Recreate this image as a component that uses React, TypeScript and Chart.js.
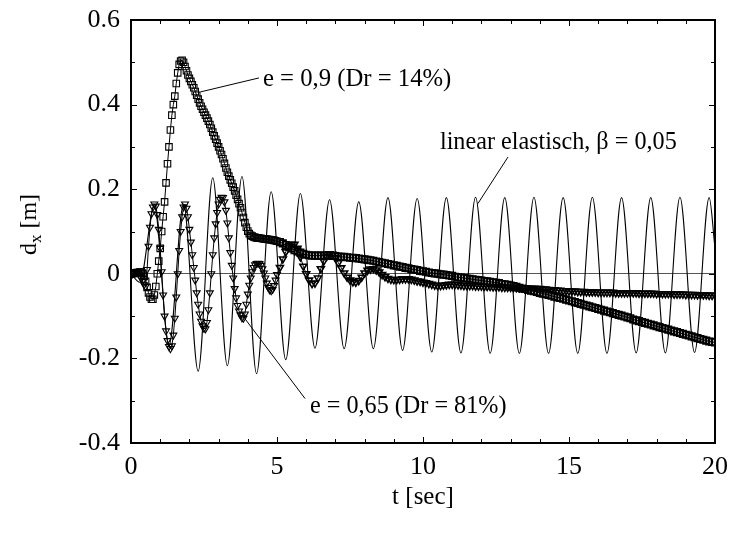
import React, { useEffect, useRef } from "react";
import { Chart, registerables } from "chart.js";

Chart.register(...registerables);

// ---------- axes ----------
const X_MIN = 0;
const X_MAX = 20;
const X_STEP = 5;
const X_MINOR = 1;
const Y_MIN = -0.4;
const Y_MAX = 0.6;
const Y_STEP = 0.2;
const Y_MINOR = 0.1;
const X_TITLE = "t [sec]";
const Y_TITLE_MAIN = "d";
const Y_TITLE_SUB = "x";
const Y_TITLE_UNIT = " [m]";

// ---------- sampling grid of the two measured records ----------
const EARLY_STEP = 0.05; // 0.00 ... 5.00 s
const LATE_START = 5.1;
const LATE_STEP = 0.1; // 5.1 ... 20.0 s

// ---------- e = 0,9 (Dr = 14%)  (squares) ----------
const SQ_EARLY = [
  0, 0, 0.001, 0.002, 0.003, 0.003, 0.004, 0.004, 0.001, -0.006,
  -0.018, -0.032, -0.045, -0.055, -0.06, -0.06, -0.05, -0.03, 0.0, 0.03,
  0.06, 0.1, 0.135, 0.17, 0.215, 0.26, 0.3, 0.34, 0.375, 0.4,
  0.42, 0.45, 0.475, 0.495, 0.503, 0.505, 0.5, 0.49, 0.48, 0.47,
  0.462, 0.455, 0.447, 0.44, 0.431, 0.422, 0.413, 0.404, 0.396, 0.389,
  0.382, 0.375, 0.368, 0.361, 0.353, 0.344, 0.335, 0.326, 0.318, 0.309,
  0.3, 0.291, 0.282, 0.272, 0.261, 0.25, 0.24, 0.231, 0.222, 0.214,
  0.205, 0.196, 0.186, 0.176, 0.166, 0.156, 0.145, 0.133, 0.121, 0.11,
  0.101, 0.095, 0.091, 0.089, 0.087, 0.086, 0.085, 0.085, 0.084, 0.084,
  0.083, 0.083, 0.082, 0.082, 0.081, 0.081, 0.08, 0.08, 0.079, 0.078,
  0.077,
];
const SQ_LATE = [
  0.075, 0.072, 0.068, 0.064, 0.06, 0.056, 0.053, 0.05, 0.047, 0.045,
  0.044, 0.043, 0.043, 0.043, 0.043, 0.043, 0.043, 0.043, 0.042, 0.042,
  0.041, 0.04, 0.04, 0.039, 0.038, 0.038, 0.037, 0.036, 0.035, 0.034,
  0.033, 0.032, 0.031, 0.029, 0.028, 0.026, 0.025, 0.023, 0.022, 0.02,
  0.019, 0.017, 0.016, 0.014, 0.013, 0.011, 0.01, 0.009, 0.007, 0.006,
  0.005, 0.003, 0.002, 0.001, 0, -0.001, -0.002, -0.003, -0.004, -0.005,
  -0.007, -0.008, -0.009, -0.01, -0.011, -0.012, -0.013, -0.014, -0.015, -0.016,
  -0.017, -0.018, -0.019, -0.02, -0.021, -0.022, -0.024, -0.025, -0.026, -0.028,
  -0.029, -0.031, -0.033, -0.035, -0.036, -0.038, -0.04, -0.041, -0.043, -0.045,
  -0.047, -0.048, -0.05, -0.052, -0.054, -0.056, -0.057, -0.059, -0.061, -0.063,
  -0.065, -0.067, -0.069, -0.071, -0.073, -0.075, -0.077, -0.079, -0.081, -0.083,
  -0.085, -0.087, -0.089, -0.091, -0.093, -0.095, -0.097, -0.099, -0.101, -0.103,
  -0.105, -0.108, -0.11, -0.112, -0.114, -0.116, -0.118, -0.12, -0.122, -0.124,
  -0.126, -0.128, -0.13, -0.132, -0.134, -0.136, -0.138, -0.14, -0.142, -0.144,
  -0.146, -0.148, -0.15, -0.152, -0.154, -0.156, -0.158, -0.16, -0.161, -0.162,
];

// ---------- e = 0,65 (Dr = 81%)  (triangles) ----------
const TR_EARLY = [
  0, 0, 0.002, 0.004, 0.004, 0.001, -0.004, -0.01, -0.017, -0.026,
  -0.03, 0.01, 0.065, 0.11, 0.142, 0.158, 0.165, 0.16, 0.14, 0.105,
  0.06, 0.005, -0.05, -0.1, -0.135, -0.158, -0.172, -0.177, -0.17, -0.145,
  -0.105, -0.055, 0, 0.055, 0.1, 0.135, 0.158, 0.165, 0.155, 0.135,
  0.105, 0.075, 0.045, 0.015, -0.015, -0.045, -0.072, -0.095, -0.112, -0.123,
  -0.129, -0.13, -0.115, -0.085, -0.045, 0, 0.045, 0.085, 0.118, 0.145,
  0.165, 0.176, 0.181, 0.18, 0.17, 0.15, 0.12, 0.085, 0.05, 0.02,
  -0.01, -0.035, -0.057, -0.075, -0.088, -0.097, -0.104, -0.105, -0.095, -0.072,
  -0.048, -0.027, -0.01, 0.005, 0.015, 0.021, 0.024, 0.025, 0.024, 0.02,
  0.012, 0.002, -0.01, -0.022, -0.032, -0.038, -0.04, -0.037, -0.028, -0.015,
  -0.002,
];
const TR_LATE = [
  0.015, 0.035, 0.052, 0.063, 0.07, 0.07, 0.06, 0.04, 0.018, 0.0,
  -0.015, -0.023, -0.022, -0.01, 0.012, 0.03, 0.041, 0.047, 0.046, 0.038,
  0.026, 0.014, 0.002, -0.008, -0.015, -0.019, -0.02, -0.016, -0.008, 0.002,
  0.008, 0.011, 0.012, 0.009, 0.004, -0.002, -0.007, -0.011, -0.013, -0.014,
  -0.014, -0.013, -0.012, -0.012, -0.012, -0.013, -0.015, -0.017, -0.018, -0.02,
  -0.021, -0.023, -0.025, -0.027, -0.028, -0.028, -0.027, -0.026, -0.025, -0.025,
  -0.025, -0.026, -0.027, -0.028, -0.028, -0.028, -0.028, -0.029, -0.029, -0.029,
  -0.03, -0.03, -0.03, -0.031, -0.031, -0.031, -0.032, -0.032, -0.032, -0.032,
  -0.033, -0.033, -0.033, -0.033, -0.034, -0.034, -0.034, -0.034, -0.035, -0.035,
  -0.036, -0.036, -0.037, -0.038, -0.038, -0.039, -0.039, -0.04, -0.04, -0.041,
  -0.041, -0.041, -0.042, -0.042, -0.042, -0.043, -0.043, -0.043, -0.043, -0.044,
  -0.044, -0.044, -0.044, -0.044, -0.044, -0.045, -0.045, -0.045, -0.045, -0.045,
  -0.045, -0.045, -0.045, -0.046, -0.046, -0.046, -0.046, -0.046, -0.046, -0.047,
  -0.047, -0.047, -0.047, -0.047, -0.047, -0.048, -0.048, -0.048, -0.048, -0.049,
  -0.049, -0.049, -0.049, -0.05, -0.05, -0.05, -0.05, -0.051, -0.051, -0.051,
];

// ---------- linear elastisch, beta = 0,05 (turning points of the thin curve) ----------
const LIN_T = [
  0, 0.3, 0.8, 1.3, 1.8, 2.3, 2.8, 3.3, 3.8, 4.3, 4.8, 5.3, 5.8, 6.3, 6.8, 7.3,
  7.8, 8.3, 8.8, 9.3, 9.8, 10.3, 10.8, 11.3, 11.8, 12.3, 12.8, 13.3, 13.8, 14.3,
  14.8, 15.3, 15.8, 16.3, 16.8, 17.3, 17.8, 18.3, 18.8, 19.3, 19.8, 20,
];
const LIN_D = [
  0, -0.02, 0.16, -0.17, 0.165, -0.23, 0.227, -0.217, 0.23, -0.236, 0.194,
  -0.203, 0.19, -0.176, 0.175, -0.177, 0.17, -0.177, 0.18, -0.181, 0.178,
  -0.185, 0.18, -0.187, 0.181, -0.188, 0.18, -0.188, 0.181, -0.188, 0.18,
  -0.188, 0.181, -0.188, 0.18, -0.187, 0.18, -0.187, 0.181, -0.186, 0.18, 0.06,
];

// ---------- annotation texts ----------
const LABEL_E09 = "e = 0,9 (Dr = 14%)";
const LABEL_E065 = "e = 0,65 (Dr = 81%)";
const LABEL_LIN = "linear elastisch, \u03B2 = 0,05";

const FONT_FAMILY = "'Liberation Serif', 'Times New Roman', serif";

function sampleTimes(earlyCount: number, lateCount: number): number[] {
  const out: number[] = [];
  for (let i = 0; i < earlyCount; i++) out.push(+(i * EARLY_STEP).toFixed(2));
  for (let i = 0; i < lateCount; i++) out.push(+(LATE_START + i * LATE_STEP).toFixed(2));
  return out;
}

function toPoints(ts: number[], ds: number[]) {
  return ts.map((t, i) => ({ x: t, y: ds[i] }));
}

function drawCondensed(ctx: any, text: string, x: number, y: number, sx: number) {
  ctx.save();
  ctx.translate(x, y);
  ctx.scale(sx, 1);
  ctx.fillText(text, 0, 0);
  ctx.restore();
}

// coarser late sampling -> slightly heavier outlines so the dense bands stay dark
const markerBorder = (c: any) => (c.raw && c.raw.x >= LATE_START ? 1.6 : 1.1);

const overlayPlugin = {
  id: "overlay",
  afterDatasetsDraw(chart: any) {
    const { ctx, chartArea: a, scales } = chart;
    const xs = scales.x;
    const ys = scales.y;
    const px = (v: number) => xs.getPixelForValue(v);
    const py = (v: number) => ys.getPixelForValue(v);
    ctx.save();

    // inner tick marks on all four sides
    ctx.strokeStyle = "#000";
    ctx.lineWidth = 1;
    ctx.beginPath();
    const nx = Math.round((X_MAX - X_MIN) / X_MINOR);
    for (let k = 0; k <= nx; k++) {
      const v = X_MIN + k * X_MINOR;
      const major = Math.abs(v / X_STEP - Math.round(v / X_STEP)) < 1e-6;
      const len = major ? 6 : 4;
      const x = Math.round(px(v)) + 0.5;
      ctx.moveTo(x, a.bottom);
      ctx.lineTo(x, a.bottom - len);
      ctx.moveTo(x, a.top);
      ctx.lineTo(x, a.top + len);
    }
    const ny = Math.round((Y_MAX - Y_MIN) / Y_MINOR);
    for (let k = 0; k <= ny; k++) {
      const v = Y_MIN + k * Y_MINOR;
      const major = Math.abs(v / Y_STEP - Math.round(v / Y_STEP)) < 1e-6;
      const len = major ? 6 : 4;
      const y = Math.round(py(v)) + 0.5;
      ctx.moveTo(a.left, y);
      ctx.lineTo(a.left + len, y);
      ctx.moveTo(a.right, y);
      ctx.lineTo(a.right - len, y);
    }
    ctx.stroke();

    // frame
    ctx.lineWidth = 2;
    ctx.strokeRect(a.left, a.top, a.right - a.left, a.bottom - a.top);

    // leader lines
    ctx.lineWidth = 1;
    ctx.beginPath();
    ctx.moveTo(px(4.38), py(0.463));
    ctx.lineTo(px(2.38), py(0.43));
    ctx.moveTo(px(12.91), py(0.276));
    ctx.lineTo(px(11.88), py(0.166));
    ctx.moveTo(px(3.9), py(-0.106));
    ctx.lineTo(px(5.96), py(-0.295));
    ctx.stroke();

    // annotation texts
    ctx.fillStyle = "#000";
    ctx.font = `26px ${FONT_FAMILY}`;
    ctx.textAlign = "left";
    ctx.textBaseline = "alphabetic";
    drawCondensed(ctx, LABEL_E09, px(4.52), py(0.445), 0.95);
    drawCondensed(ctx, LABEL_LIN, px(10.58), py(0.294), 0.93);
    drawCondensed(ctx, LABEL_E065, px(6.13), py(-0.328), 0.93);

    // x title
    ctx.font = `25px ${FONT_FAMILY}`;
    ctx.textAlign = "center";
    ctx.fillText(X_TITLE, (a.left + a.right) / 2, 504);

    // y title with subscript
    ctx.save();
    ctx.translate(36, (a.top + a.bottom) / 2 - 7);
    ctx.rotate(-Math.PI / 2);
    ctx.textAlign = "left";
    const mainFont = `24px ${FONT_FAMILY}`;
    const subFont = `17px ${FONT_FAMILY}`;
    ctx.font = mainFont;
    const wMain = ctx.measureText(Y_TITLE_MAIN).width;
    const wUnit = ctx.measureText(Y_TITLE_UNIT).width;
    ctx.font = subFont;
    const wSub = ctx.measureText(Y_TITLE_SUB).width;
    const total = wMain + wSub + wUnit;
    let cx = -total / 2;
    ctx.font = mainFont;
    ctx.fillText(Y_TITLE_MAIN, cx, 0);
    cx += wMain;
    ctx.font = subFont;
    ctx.fillText(Y_TITLE_SUB, cx, 5);
    cx += wSub;
    ctx.font = mainFont;
    ctx.fillText(Y_TITLE_UNIT, cx, 0);
    ctx.restore();

    ctx.restore();
  },
};

export default function App() {
  const canvasRef = useRef<HTMLCanvasElement | null>(null);

  useEffect(() => {
    const canvas = canvasRef.current;
    if (!canvas) return;
    Chart.defaults.font.family = FONT_FAMILY;
    Chart.defaults.color = "#000";

    const tSamples = sampleTimes(SQ_EARLY.length, SQ_LATE.length);
    const sq = SQ_EARLY.concat(SQ_LATE);
    const tr = TR_EARLY.concat(TR_LATE);

    const chart = new Chart(canvas, {
      type: "line",
      data: {
        datasets: [
          {
            label: LABEL_E09,
            data: toPoints(tSamples, sq),
            borderColor: "#000",
            borderWidth: 1,
            tension: 0,
            pointStyle: "rect",
            pointRadius: 4.6,
            pointBorderWidth: markerBorder,
            pointBorderColor: "#000",
            pointBackgroundColor: "rgba(255,255,255,0)",
          },
          {
            label: LABEL_E065,
            data: toPoints(tSamples, tr),
            borderColor: "#000",
            borderWidth: 1,
            tension: 0,
            pointStyle: "triangle",
            pointRotation: 180,
            pointRadius: 4,
            pointBorderWidth: markerBorder,
            pointBorderColor: "#000",
            pointBackgroundColor: "rgba(255,255,255,0)",
          },
          {
            label: LABEL_LIN,
            data: toPoints(LIN_T, LIN_D),
            borderColor: "#000",
            borderWidth: 1.1,
            cubicInterpolationMode: "monotone",
            pointRadius: 0,
          },
        ],
      },
      options: {
        animation: false,
        responsive: false,
        devicePixelRatio: 1,
        events: [],
        layout: { padding: { top: 20, right: 15, left: 0, bottom: 0 } },
        plugins: {
          legend: { display: false },
          tooltip: { enabled: false },
          title: { display: false },
        },
        scales: {
          x: {
            type: "linear",
            min: X_MIN,
            max: X_MAX,
            afterFit: (s: any) => {
              s.height = 90;
              s.paddingLeft = 0;
              s.paddingRight = 0;
            },
            grid: { display: false, drawTicks: false },
            border: { display: false },
            ticks: {
              stepSize: X_STEP,
              padding: 9,
              color: "#000",
              font: { size: 26, family: FONT_FAMILY },
              maxRotation: 0,
              callback: (v: any) => String(Math.round(Number(v))),
            },
          },
          y: {
            type: "linear",
            min: Y_MIN,
            max: Y_MAX,
            afterFit: (s: any) => {
              s.width = 131;
              s.paddingTop = 0;
              s.paddingBottom = 0;
            },
            grid: {
              drawTicks: false,
              lineWidth: 1,
              color: (c: any) =>
                c.tick && Math.abs(c.tick.value) < 1e-9 ? "#555" : "rgba(0,0,0,0)",
            },
            border: { display: false },
            ticks: {
              stepSize: Y_STEP,
              padding: 11,
              color: "#000",
              font: { size: 26, family: FONT_FAMILY },
              callback: (v: any) => {
                const n = Number(Number(v).toFixed(1));
                return n === 0 ? "0" : String(n);
              },
            },
          },
        },
      },
      plugins: [overlayPlugin],
    });

    return () => {
      chart.destroy();
    };
  }, []);

  return (
    <div style={{ position: "fixed", left: 0, top: 0, width: 730, height: 533, background: "#fff" }}>
      <canvas ref={canvasRef} width={730} height={533} style={{ display: "block" }} />
    </div>
  );
}
